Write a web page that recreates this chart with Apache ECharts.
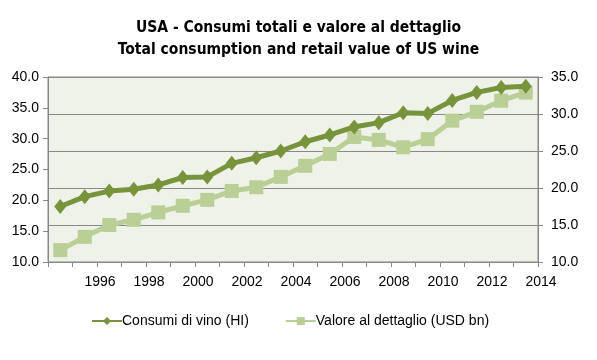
<!DOCTYPE html>
<html>
<head>
<meta charset="utf-8">
<script src="https://cdn.jsdelivr.net/npm/echarts@6/dist/echarts.min.js"></script>
<style>html,body{margin:0;padding:0;background:#fff}#c{width:597px;height:360px}</style>
</head>
<body>
<div id="c"></div>
<script>
var years = ['1994','1995','1996','1997','1998','1999','2000','2001','2002','2003','2004','2005','2006','2007','2008','2009','2010','2011','2012','2013'];
var consumi = [19.0,20.6,21.5,21.8,22.5,23.7,23.8,26.0,26.9,28.0,29.5,30.6,31.9,32.6,34.2,34.1,36.2,37.5,38.3,38.5];
var valore = [11.6,13.4,15.0,15.7,16.7,17.6,18.4,19.6,20.1,21.5,23.0,24.6,26.9,26.5,25.5,26.6,29.1,30.3,31.8,32.9];
var nameConsumi = 'Consumi di vino (HI)';
var nameValore = 'Valore al dettaglio (USD bn)';
var titleText = 'USA - Consumi totali e valore al dettaglio\nTotal consumption and retail value of US wine';

var chart = echarts.init(document.getElementById('c'), null, {renderer:'canvas'});
var gray = '#888888';
var fontLabel = 'Liberation Sans';
chart.setOption({
  animation:false,
  backgroundColor:'#ffffff',
  title:{
    text:titleText, left:'center', top:12,
    textStyle:{fontFamily:'"DejaVu Sans Condensed", "Liberation Sans"', fontWeight:'bold', fontSize:15.5, lineHeight:22, color:'#000'}
  },
  legend:{
    left:86, top:309, itemWidth:30, itemHeight:10, itemGap:36,
    textStyle:{fontFamily:fontLabel, fontSize:14, color:'#000', padding:[0,0,0,-5]},
    data:[nameConsumi, nameValore]
  },
  grid:{left:48, right:59, top:77, bottom:98, show:true, backgroundColor:'#EEF2E8', borderColor:gray, borderWidth:1},
  xAxis:[
    {type:'category', data:years, boundaryGap:true, position:'bottom',
     axisLine:{show:true, lineStyle:{color:gray}},
     axisTick:{show:true, interval:0, length:5, inside:false, lineStyle:{color:gray}},
     axisLabel:{show:false}, splitLine:{show:false}},
    {type:'value', min:1994, max:2014, interval:2, position:'bottom',
     axisLine:{show:false}, axisTick:{show:false}, splitLine:{show:false},
     axisLabel:{showMinLabel:false, margin:13, fontFamily:fontLabel, fontSize:14, color:'#000', padding:[0,0,0,6], formatter:function(v){return String(v);}}}
  ],
  yAxis:[
    {type:'value', min:10, max:40, interval:5, position:'left',
     axisLine:{show:true, lineStyle:{color:gray}},
     axisTick:{show:true, length:5, lineStyle:{color:gray}},
     splitLine:{show:false},
     axisLabel:{margin:9, fontFamily:fontLabel, fontSize:14, color:'#000', formatter:function(v){return v.toFixed(1);}}},
    {type:'value', min:10, max:35, interval:5, position:'right',
     axisLine:{show:true, lineStyle:{color:gray}},
     axisTick:{show:true, length:5, lineStyle:{color:gray}},
     splitLine:{show:true, lineStyle:{color:gray, width:1}},
     axisLabel:{margin:13, fontFamily:fontLabel, fontSize:14, color:'#000', formatter:function(v){return v.toFixed(1);}}}
  ],
  series:[
    {name:nameValore, type:'line', xAxisIndex:0, yAxisIndex:1, data:valore,
     symbol:'rect', symbolSize:14, showAllSymbol:true,
     lineStyle:{color:'#B9CF96', width:5}, itemStyle:{color:'#B9CF96'}, z:2},
    {name:nameConsumi, type:'line', xAxisIndex:0, yAxisIndex:0, data:consumi,
     symbol:'diamond', symbolSize:[12,15], showAllSymbol:true,
     lineStyle:{color:'#77933C', width:5}, itemStyle:{color:'#77933C'}, z:3}
  ]
});
</script>
</body>
</html>
